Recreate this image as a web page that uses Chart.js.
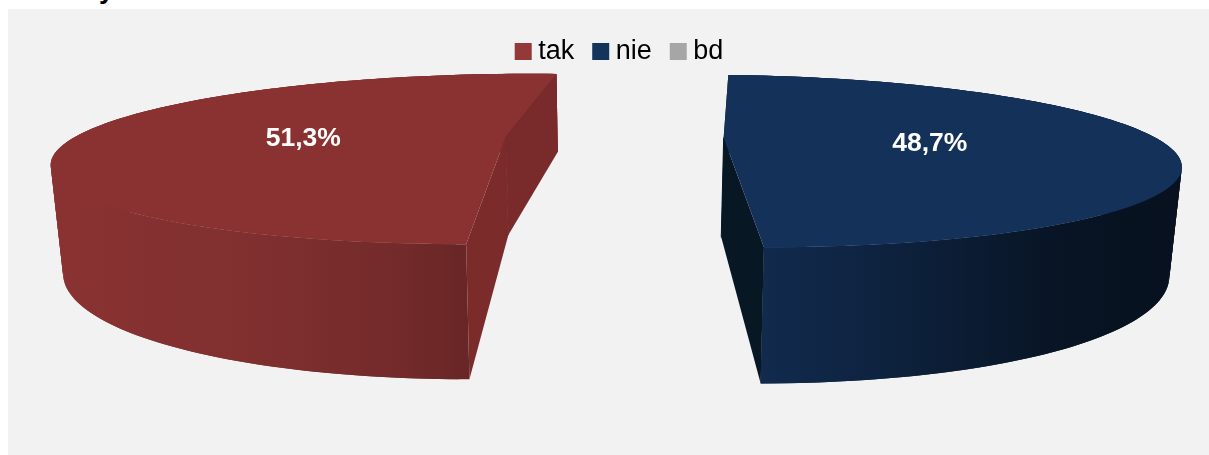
<!DOCTYPE html>
<html><head><meta charset="utf-8">
<style>
html,body{margin:0;padding:0;background:#fff;overflow:hidden}
#wrap{position:relative;width:1209px;height:455px;overflow:hidden}
#t{position:absolute;left:99px;top:-26px;font:bold 27px "Liberation Sans",Arial,sans-serif;color:#000;line-height:31px}
canvas{position:absolute;left:0;top:0}
</style>
<script src="https://cdn.jsdelivr.net/npm/chart.js@4/dist/chart.umd.js"></script>
</head><body>
<div id="wrap"><div id="t">y</div><canvas id="c" width="1209" height="455"></canvas></div>
<script>
const categories = ['tak','nie','bd'];
const values = [51.3,48.7,0];
const valueLabels = ['51,3%','48,7%',''];
const colors = ['#8a3232','#14315a','#a6a6a6'];
const legendFont = 27;

// Perspective camera for the tilted, exploded pie (screen units)
const cam = {vx:614.5, hy:-159, F:1602, G:1101, d:3.72, wall:0.335, shrink:0.978, explode:0.253};
function project(u,v,bottom){
  const s = 1/(cam.d - v);
  if(!bottom) return [cam.vx + cam.F*u*s, cam.hy + cam.G*s];
  return [cam.vx + cam.shrink*cam.F*u*s, cam.hy + (1+cam.wall)*cam.G*s];
}
function shade(hex,f){
  const n=parseInt(hex.slice(1),16);
  const c=[n>>16&255,n>>8&255,n&255].map(x=>Math.round(x*f));
  return `rgb(${c[0]},${c[1]},${c[2]})`;
}
function quad(ctx,a,b,c,d,col){
  ctx.fillStyle=col;
  ctx.beginPath();ctx.moveTo(a[0],a[1]);ctx.lineTo(b[0],b[1]);ctx.lineTo(c[0],c[1]);ctx.lineTo(d[0],d[1]);ctx.closePath();ctx.fill();
}
// wall brightness, from the front edge (0) to the outer silhouette (1)
const wallShades = [
  [[0,.76],[.2,.85],[.5,.93],[1,1]],
  [[0,.86],[.33,.67],[.57,.5],[.72,.4],[1,.34]]
];
const pie3d = {
  id:'pie3d',
  beforeDraw(chart){
    const ctx=chart.ctx;ctx.save();ctx.fillStyle='#f2f2f2';ctx.fillRect(8,9,1201,446);ctx.restore();
  },
  beforeDatasetDraw(chart,args){
    const ctx=chart.ctx, arcs=args.meta.data;
    arcs.forEach((arc,i)=>{
      const p=arc.getProps(['startAngle','endAngle'],true);
      if(p.endAngle-p.startAngle<1e-4) return;
      const mid=(p.startAngle+p.endAngle)/2;
      const cx=cam.explode*Math.cos(mid), cy=cam.explode*Math.sin(mid);
      const col=colors[i], N=180, ring=[];
      for(let k=0;k<=N;k++){
        const a=p.startAngle+(p.endAngle-p.startAngle)*k/N;
        ring.push({a,u:cx+Math.cos(a),v:cy+Math.sin(a)});
      }
      // outer wall: overlapping strips sharing one horizontal shading gradient
      const xs=ring.map(r=>project(r.u,r.v)[0]);
      const frontRim=ring.reduce((m,r)=>r.v>m.v?r:m,ring[0]);
      const xFront=project(frontRim.u,frontRim.v)[0];
      const xOuter=cx<0?Math.min(...xs):Math.max(...xs);
      const grad=ctx.createLinearGradient(xFront,0,xOuter,0);
      (wallShades[i]||wallShades[0]).forEach(s=>grad.addColorStop(s[0],shade(col,s[1])));
      for(let k=0;k<N;k++){
        const r0=ring[k], r1=ring[Math.min(N,k+2)];
        quad(ctx,project(r0.u,r0.v),project(r1.u,r1.v),project(r1.u,r1.v,true),project(r0.u,r0.v,true),grad);
      }
      // radial walls
      const wallCol=i===0?['#7c2b2b','#792b2b']:['#071824','#071824'];
      const rs=ring[0], re=ring[N];
      quad(ctx,project(cx,cy),project(re.u,re.v),project(re.u,re.v,true),project(cx,cy,true),wallCol[1]);
      quad(ctx,project(cx,cy),project(rs.u,rs.v),project(rs.u,rs.v,true),project(cx,cy,true),wallCol[0]);
      const a0=project(cx,cy), a1=project(cx,cy,true);
      ctx.strokeStyle=wallCol[1];ctx.lineWidth=1;ctx.beginPath();ctx.moveTo(a0[0],a0[1]);ctx.lineTo(a1[0],a1[1]);ctx.stroke();
      // top face
      ctx.fillStyle=col;ctx.beginPath();
      const o=project(cx,cy);ctx.moveTo(o[0],o[1]);
      ring.forEach(r=>{const q=project(r.u,r.v);ctx.lineTo(q[0],q[1]);});
      ctx.closePath();ctx.fill();
      // value label
      if(valueLabels[i]){
        const q=project(cx+0.475*Math.cos(mid),cy+0.475*Math.sin(mid));
        ctx.save();
        ctx.fillStyle='#fff';ctx.font='bold 26.5px "Liberation Sans",Arial,sans-serif';
        ctx.textAlign='center';ctx.textBaseline='middle';
        ctx.fillText(valueLabels[i],q[0]-0.5,q[1]+4);
        ctx.restore();
      }
    });
    return false;
  }
};
new Chart(document.getElementById('c'),{
  type:'pie',
  data:{labels:categories,datasets:[{data:values,backgroundColor:['#93393a','#15345c','#a6a6a6'],borderWidth:0}]},
  plugins:[pie3d],
  options:{
    responsive:false,animation:false,rotation:180,
    layout:{padding:{top:13,left:36}},
    plugins:{
      tooltip:{enabled:false},
      legend:{position:'top',align:'center',
        labels:{usePointStyle:true,pointStyle:'rect',boxWidth:3,boxHeight:17,padding:25,color:'#000',
          font:{family:'"Liberation Sans",Arial,sans-serif',size:legendFont}}}
    }
  }
});
</script>
</body></html>
